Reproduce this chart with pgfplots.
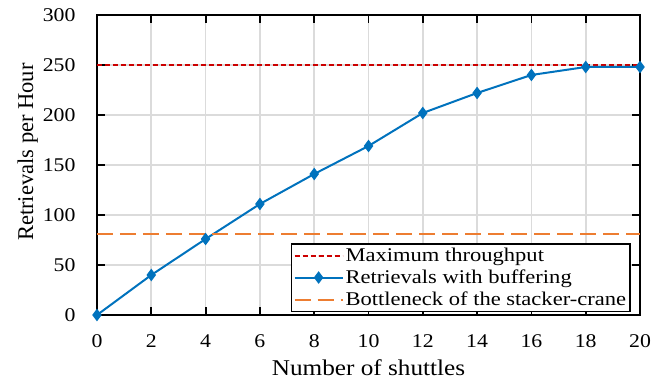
\documentclass[border=0pt]{standalone}
\usepackage{pgfplots}
\pgfplotsset{compat=1.18}
\usepackage{fontspec}
\setmainfont{Liberation Serif}[FakeStretch=1.12]
\newfontfamily\ylabfont{Liberation Serif}
\newfontfamily\legfont{Liberation Serif}[FakeStretch=1.16]
\definecolor{mblue}{RGB}{0,114,189}
\definecolor{mred}{RGB}{204,0,0}
\definecolor{morange}{RGB}{237,125,49}
\begin{document}
\begin{tikzpicture}[x=1bp,y=1bp]
\begin{axis}[
  name=ax,
  scale only axis,
  width=543bp, height=300bp,
  xmin=0, xmax=20, ymin=0, ymax=300,
  xtick={0,2,...,20}, ytick={0,50,...,300},
  tick align=inside,
  major tick length=8bp,
  axis line style={line width=1.8bp},
  every tick/.style={black, line width=1.8bp},
  grid=major,
  major grid style={line width=1.6bp, color=black!14},
  /pgf/number format/assume math mode=true,
  tick label style={font=\fontsize{19.5}{22}\selectfont},
  xticklabel style={yshift=-16bp},
  yticklabel style={xshift=-18bp},
  xlabel={Number of shuttles},
  ylabel={Retrievals per Hour},
  xlabel style={font=\fontsize{22.6}{26}\selectfont, yshift=-5bp},
  ylabel style={font=\fontsize{22.6}{26}\ylabfont, at={(ticklabel cs:0.543)}, yshift=-2bp},
  legend style={at={(0.983,0.01)}, anchor=south east,
    font=\fontsize{19.5}{23.5}\legfont, draw=black, line width=1.4bp,
    inner sep=2bp, row sep=3bp,
    cells={anchor=west}},
  legend cell align=left,
  legend image code/.code={\draw[mark repeat=2,mark phase=2,#1] plot coordinates {(0bp,0bp) (24bp,0bp) (48bp,0bp)};},
]
\addplot[mred, line width=2bp, dash pattern=on 5bp off 3bp] coordinates {(0,250) (20,250)};
\addlegendentry{Maximum throughput}
\addplot[mblue, line width=2bp, mark=diamond*, mark size=5.5bp, mark options={solid, fill=mblue, line width=1bp}] coordinates {
(0,0) (2,40) (4,76) (6,111) (8,141) (10,169) (12,202) (14,222) (16,240) (18,248) (20,248)};
\addlegendentry{Retrievals with buffering}
\addplot[morange, line width=2bp, dash pattern=on 16bp off 7bp] coordinates {(0,81) (20,81)};
\addlegendentry{Bottleneck of the stacker-crane}
\end{axis}
\path (ax.south west) ++(-97bp,-64bp) coordinate (bl);
\path (ax.north east) ++(23bp,15bp) coordinate (tr);
\path (bl) rectangle (tr);
\end{tikzpicture}
\end{document}
